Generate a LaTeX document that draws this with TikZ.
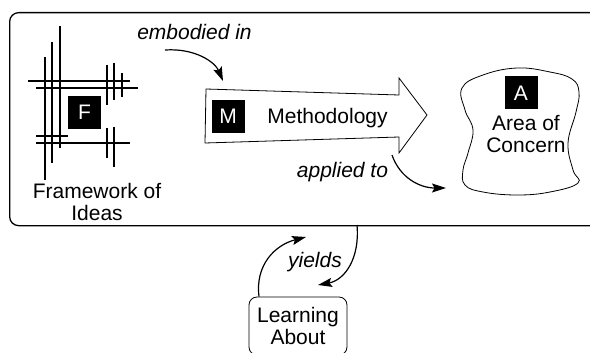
\documentclass[tikz,border=0pt]{standalone}
\usepackage{fontspec}
\setmainfont{Liberation Sans}
\usetikzlibrary{arrows.meta}
\begin{document}
\begin{tikzpicture}[x=1pt,y=-1pt,
  every node/.style={font=\fontsize{21}{22}\selectfont},
  lbl/.style={font=\fontsize{21}{22}\selectfont\itshape, anchor=base, inner sep=0pt},
  txt/.style={align=center, inner sep=0pt},
  badge/.style={fill=black, text=white, minimum width=33pt, minimum height=33pt, inner sep=0pt},
  gridl/.style={line width=1.2pt},
  thinline/.style={line width=0.8pt},
  framebox/.style={draw, line width=1.3pt, rounded corners=9pt, inner sep=0pt, anchor=north west},
  conn/.style={line width=1.2pt, -{Stealth[length=14pt,width=9pt,inset=2.5pt]}},
]
\useasboundingbox (0,0) rectangle (590,353);
\clip (0,0) rectangle (590,353);
% outer frame
\node[framebox, minimum width=600pt, minimum height=213pt] (frame) at (9,12) {};
% framework grid
\draw[gridl] (45,57)--(45,180) (52,42)--(52,163) (60,26)--(60,148)
  (107,65)--(107,105) (114,63)--(114,100) (122,73)--(122,97)
  (107,128)--(107,158) (114,127)--(114,167)
  (28,81)--(130,81) (36,88)--(138,88) (36,136)--(68,136) (36,143)--(130,143);
\node[badge] (F) at (84.5,112.5) {F};
\node[txt] (fw) at (97,202) {Framework of\\Ideas};
% methodology arrow
\draw[thinline, fill=white] (206,89) -- (399,95) -- (399,78) -- (427,115) -- (399,153) -- (399,137) -- (205,143) -- cycle;
\node[badge] (M) at (228,116.5) {M};
\node[anchor=base, inner sep=0pt] (meth) at (327.5,124) {Methodology};
% area of concern
\draw[thinline] plot[smooth cycle, tension=0.7] coordinates {(462,88)(483,75)(517,68)(550,72)(572,79)(579,92)(576,112)(568,143)(573,170)(578,183)(550,192)(517,195)(483,192)(465,185)(463,170)(468,153)(473,130)(465,110)};
\node[badge] (A) at (521,93) {A};
\node[txt] (area) at (526,134) {Area of\\Concern};
% learning about
\node[draw, thinline, rounded corners=8pt, minimum width=98pt, minimum height=58pt, txt] (learn) at (298,326) {Learning\\About};
% labels
\node[lbl] (emb) at (194.5,40) {embodied in};
\node[lbl] (app) at (342.5,177) {applied to};
\node[lbl] (yld) at (315,267) {yields};
% connectors
\coordinate (e1) at (165,50);
\coordinate (e2) at (223,81);
\coordinate (a1) at (392,155);
\coordinate (a2) at (446,188);
\coordinate (y1) at (357,225);
\coordinate (y2) at (318,285);
\coordinate (l2) at (306,237);
\draw[conn] (e1) .. controls (195,48) and (215,62) .. (e2);
\draw[conn] (a1) .. controls (400,178) and (420,188) .. (a2);
\draw[conn] (y1) .. controls (360,258) and (345,280) .. (y2);
\draw[conn] ([xshift=-39pt]learn.north) .. controls (255,265) and (275,245) .. (l2);
\end{tikzpicture}
\end{document}
